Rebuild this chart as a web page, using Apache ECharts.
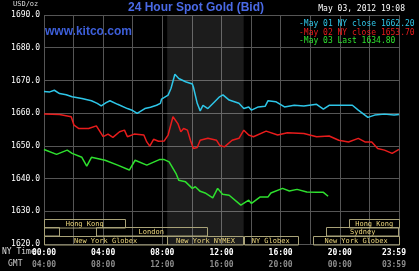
<!DOCTYPE html>
<html><head><meta charset="utf-8">
<script src="https://cdn.jsdelivr.net/npm/echarts@6/dist/echarts.min.js"></script>
<style>html,body{margin:0;padding:0;background:#000}#c{width:419px;height:271px}</style>
</head><body><div id="c"></div>
<script>
// x in NY hours (0..24), y in USD/oz
const nyTimeLabels = ['00:00','04:00','08:00','12:00','16:00','20:00','23:59'];
const gmtLabels = ['04:00','08:00','12:00','16:00','20:00','00:00','03:59'];
const seriesNames = ['May 01 NY close 1662.20','May 02 NY close 1653.70','May 03 Last 1634.80'];
const may01 = [[0,1666.6],[0.39,1666.5],[0.7,1667.0],[1.05,1666.0],[1.5,1665.6],[1.9,1665.0],[2.56,1664.5],[3.21,1663.8],[3.6,1663.0],[3.87,1662.2],[4.2,1663.2],[4.46,1663.8],[4.98,1662.7],[5.64,1661.4],[6.0,1660.8],[6.30,1659.9],[6.82,1661.4],[7.2,1661.8],[7.61,1662.4],[7.87,1663.0],[7.95,1664.3],[8.0,1664.5],[8.39,1665.5],[8.59,1667.6],[8.85,1671.9],[9.11,1670.6],[9.57,1669.6],[10.03,1668.9],[10.10,1668.0],[10.36,1663.0],[10.56,1660.7],[10.75,1662.4],[11.08,1661.4],[11.54,1663.5],[11.87,1665.0],[12.1,1665.6],[12.52,1664.0],[13.18,1663.0],[13.51,1661.4],[13.84,1661.9],[14.03,1660.9],[14.49,1661.9],[14.95,1662.1],[15.15,1663.8],[15.67,1663.5],[16.26,1661.9],[16.92,1662.4],[17.57,1662.2],[18.43,1662.7],[18.89,1661.2],[19.28,1662.4],[20.20,1662.4],[20.85,1662.4],[21.25,1660.9],[21.90,1658.7],[22.36,1659.4],[23.02,1659.7],[23.67,1659.4],[24,1659.6]];
const may02 = [[0,1659.7],[1.05,1659.6],[1.84,1658.9],[2.03,1656.3],[2.36,1655.3],[3.02,1655.3],[3.54,1656.1],[4.0,1652.8],[4.33,1653.6],[4.66,1652.6],[5.11,1654.3],[5.44,1654.8],[5.64,1652.8],[6.10,1653.6],[6.75,1653.3],[6.95,1651.2],[7.15,1649.9],[7.41,1652.0],[7.74,1651.4],[8.13,1651.5],[8.39,1653.3],[8.72,1658.9],[9.05,1656.8],[9.25,1654.3],[9.44,1655.3],[9.70,1654.8],[9.90,1651.7],[10.10,1649.2],[10.36,1649.5],[10.56,1651.7],[11.08,1652.3],[11.67,1651.7],[11.87,1650.2],[12.20,1649.7],[12.72,1651.7],[13.18,1652.3],[13.51,1654.8],[13.84,1653.3],[14.16,1652.8],[15.02,1654.5],[15.80,1653.3],[16.46,1654.0],[17.57,1653.8],[18.43,1652.8],[19.28,1653.0],[19.93,1651.7],[20.59,1651.2],[21.25,1652.3],[21.70,1651.2],[22.16,1651.2],[22.56,1649.2],[23.02,1648.7],[23.54,1647.7],[24,1648.9]];
const may03 = [[0,1648.9],[0.85,1647.4],[1.57,1648.7],[1.90,1647.7],[2.56,1646.5],[2.89,1643.8],[3.21,1646.5],[4.13,1645.6],[4.98,1644.1],[5.77,1642.6],[6.16,1645.6],[6.95,1644.1],[7.80,1645.8],[8.13,1645.8],[8.46,1645.1],[8.92,1641.6],[9.11,1639.5],[9.57,1639.0],[10.03,1637.0],[10.23,1637.5],[10.56,1636.1],[10.89,1635.6],[11.41,1634.1],[11.74,1637.0],[12.07,1635.2],[12.52,1634.9],[13.31,1631.9],[13.84,1633.4],[14.03,1632.4],[14.62,1634.4],[15.15,1634.4],[15.34,1635.6],[16.13,1637.0],[16.59,1636.2],[17.11,1636.7],[17.77,1635.9],[18.43,1635.8],[18.89,1635.8],[19.21,1634.6]];
const nyTradingHours = [8.33, 13.5];
const sessionNames = ['Hong Kong','Sydney','London','New York Globex','New York NYMEX','NY Globex','Sydney','New York Globex','Hong Kong'];
const sessionStart = [0, 0, 3.5, 0, 8.33, 13.5, 19.1, 18.2, 20.65];
const sessionEnd   = [5.5, 1.0, 11.0, 8.33, 13.5, 17.15, 24, 24, 24];
const sessionRow   = [2, 1, 1, 0, 0, 0, 1, 0, 2];

const MONO = '"DejaVu Sans Mono", monospace';
const lineColors = ['#2ec6e8', '#e81c1c', '#2ee02e'];
const chart = echarts.init(document.getElementById('c'), null, {renderer: 'canvas'});

const lines = [may01, may02, may03].map((d, i) => ({
  name: seriesNames[i], type: 'line', data: d, showSymbol: false, symbol: 'none',
  lineStyle: {color: lineColors[i], width: 1.5}, itemStyle: {color: lineColors[i]},
  animation: false, z: 3,
  markArea: i === 0 ? {silent: true, itemStyle: {color: 'rgba(255,255,255,0.11)'},
    data: [[{xAxis: nyTradingHours[0]}, {xAxis: nyTradingHours[1]}]]} : undefined
}));

const sessions = {
  type: 'custom', animation: false, silent: true, z: 2, clip: false,
  data: sessionStart.map((s, i) => [s, sessionEnd[i], sessionRow[i]]),
  encode: {x: [0, 1]},
  renderItem(params, api) {
    const s = api.value(0), e = api.value(1), row = api.value(2);
    const name = sessionNames[params.dataIndex];
    const base = api.coord([0, 1620])[1];
    const h = 8.5;
    const x0 = api.coord([s, 1620])[0], x1 = api.coord([e, 1620])[0];
    const yb = base - row * h, yt = yb - h;
    const w = x1 - x0;
    const ch = [{type: 'rect', shape: {x: Math.round(x0) + 0.5, y: Math.round(yt) + 0.5, width: Math.round(w), height: h},
      style: {fill: 'transparent', stroke: '#a8a278', lineWidth: 1}}];
    if (w > name.length * 4.3 + 6) ch.push({type: 'text', style: {text: name, x: (x0 + x1) / 2, y: (yt + yb) / 2 + 1,
      align: 'center', verticalAlign: 'middle', fill: '#ecd67c', font: '7px ' + MONO}});
    return {type: 'group', children: ch};
  }
};

chart.setOption({
  backgroundColor: '#000',
  animation: false,
  grid: {left: 44, right: 9, top: 15, bottom: 27},
  legend: {
    orient: 'vertical', left: 288, top: 15, itemWidth: 0, itemHeight: 0, itemGap: 0,
    selectedMode: false, data: seriesNames,
    formatter: name => '{c' + seriesNames.indexOf(name) + '|-' + name + '}',
    textStyle: {fontFamily: MONO, fontSize: 8, lineHeight: 8.5,
      rich: {c0: {color: lineColors[0], fontFamily: MONO, fontSize: 8, lineHeight: 8.5},
             c1: {color: lineColors[1], fontFamily: MONO, fontSize: 8, lineHeight: 8.5},
             c2: {color: lineColors[2], fontFamily: MONO, fontSize: 8, lineHeight: 8.5}}}
  },
  xAxis: {
    type: 'value', min: 0, max: 24, interval: 2,
    axisLine: {show: false}, axisTick: {show: false},
    splitLine: {show: true, lineStyle: {color: '#555', width: 1}},
    axisLabel: {
      margin: 3, showMinLabel: true, showMaxLabel: true,
      formatter: v => {
        if (v % 4 !== 0) return '';
        const k = v / 4;
        if (k === 6) return '{c|' + nyTimeLabels[k] + '}\n{d|' + gmtLabels[k] + '}';
        return '{a|' + nyTimeLabels[k] + '}\n{b|' + gmtLabels[k] + '}';
      },
      rich: {
        a: {color: '#fff', fontFamily: MONO, fontWeight: 'bold', fontSize: 8, lineHeight: 12},
        b: {color: '#8c8c8c', fontFamily: MONO, fontWeight: 'bold', fontSize: 8, lineHeight: 12},
        c: {color: '#fff', fontFamily: MONO, fontWeight: 'bold', fontSize: 8, lineHeight: 12, padding: [0, 10, 0, 0]},
        d: {color: '#8c8c8c', fontFamily: MONO, fontWeight: 'bold', fontSize: 8, lineHeight: 12, padding: [0, 10, 0, 0]}
      }
    }
  },
  yAxis: {
    type: 'value', min: 1620, max: 1690, interval: 10,
    axisLine: {show: false}, axisTick: {show: false},
    splitLine: {show: true, lineStyle: {color: '#555', width: 1}},
    axisLabel: {margin: 4, color: '#fff', fontFamily: MONO, fontSize: 8, formatter: v => v.toFixed(1)}
  },
  graphic: [
    {type: 'text', left: 13, top: 1, style: {text: 'USD/oz', fill: '#ddd', font: '7px ' + MONO}},
    {type: 'text', x: 196, y: 8, style: {text: '24 Hour Spot Gold (Bid)', fill: '#4a6ae6', font: 'bold 12px "Liberation Sans", Arial', align: 'center', verticalAlign: 'middle'}},
    {type: 'text', x: 45, y: 32, style: {text: 'www.kitco.com', fill: '#3d5fda', font: 'bold 12px "Liberation Sans", Arial', verticalAlign: 'middle'}},
    {type: 'text', x: 405, y: 9, style: {text: 'May 03, 2012 19:08', fill: '#fff', font: '8px ' + MONO, align: 'right', verticalAlign: 'middle'}},
    {type: 'text', x: 2, y: 252, z: -1, style: {text: 'NY Time', fill: '#ddd', font: '8px ' + MONO, verticalAlign: 'middle'}},
    {type: 'text', x: 8, y: 264, style: {text: 'GMT', fill: '#ccc', font: '8px ' + MONO, verticalAlign: 'middle'}}
  ],
  series: [sessions].concat(lines)
});
</script></body></html>
